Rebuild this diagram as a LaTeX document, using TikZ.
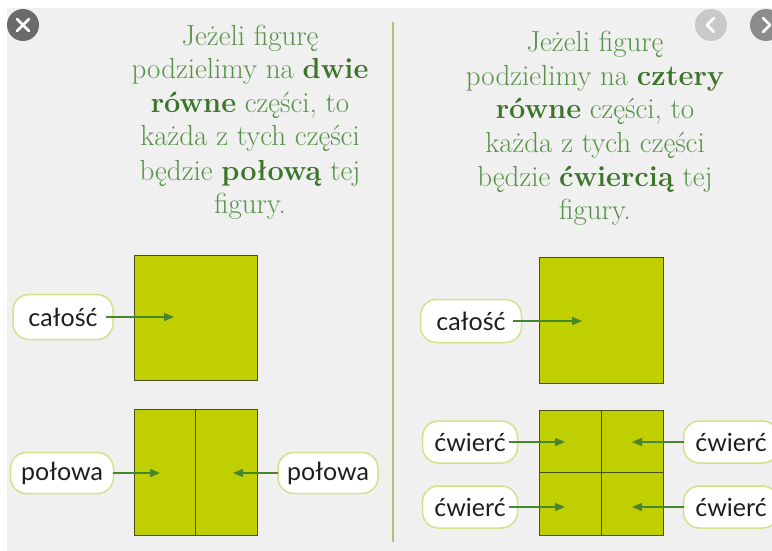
\documentclass[tikz,border=0pt]{standalone}
\usepackage{fontspec}
\newfontfamily\pillfont{Lato}
\usetikzlibrary{arrows.meta}
\definecolor{bgray}{RGB}{240,240,240}
\definecolor{txtgreen}{RGB}{88,146,72}
\definecolor{boldgreen}{RGB}{60,116,42}
\definecolor{divgreen}{RGB}{172,196,122}
\definecolor{sqfill}{RGB}{192,207,0}
\definecolor{sqborder}{RGB}{72,80,32}
\definecolor{arrgreen}{RGB}{70,135,45}
\definecolor{pillborder}{RGB}{212,224,140}
\definecolor{pilltext}{RGB}{30,30,30}
\tikzset{
  headline/.style={anchor=base, inner sep=0pt, text=txtgreen, font=\fontsize{29}{33}\selectfont},
  pill/.style={draw=pillborder, line width=1.5pt, fill=white, rounded corners=16pt,
    minimum width=100pt, minimum height=43pt, inner sep=0pt, text=pilltext,
    font=\pillfont\fontsize{25}{28}\selectfont},
  sq/.style={draw=sqborder, line width=1pt, fill=sqfill, inner sep=0pt},
  arr/.style={draw=arrgreen, line width=1.6pt, -{Triangle[length=10pt,width=8pt]}},
  part/.style={draw=sqborder, line width=1pt},
  btn/.style={circle, inner sep=0pt, minimum size=32pt},
  btnmark/.style={draw=white, line width=2.5pt, line cap=round, line join=round}
}
\newcommand{\hb}[1]{{\bfseries\color{boldgreen}#1}}
\begin{document}
\begin{tikzpicture}[x=1pt,y=-1pt]
\useasboundingbox (0,0) rectangle (772,551);
\fill[white] (0,0) rectangle (772,551);
\fill[bgray] (7,8) rectangle (772,551);
\begin{scope}
\clip (0,0) rectangle (772,551);
% buttons
\node[btn, fill={rgb,255:red,107;green,107;blue,107}] (close) at (23,25) {};
\draw[btnmark] ([shift={(-6,-6)}]close.center) -- ([shift={(6,6)}]close.center);
\draw[btnmark] ([shift={(-6,6)}]close.center) -- ([shift={(6,-6)}]close.center);
\node[btn, fill={rgb,255:red,201;green,201;blue,201}] (prev) at (711,25) {};
\draw[btnmark] ([shift={(3,-7)}]prev.center) -- ([shift={(-4,0)}]prev.center) -- ([shift={(3,7)}]prev.center);
\node[btn, fill={rgb,255:red,140;green,140;blue,140}] (next) at (766,25) {};
\draw[btnmark] ([shift={(-3,-7)}]next.center) -- ([shift={(4,0)}]next.center) -- ([shift={(-3,7)}]next.center);

% divider
\coordinate (dtop) at (393,22);
\coordinate (dbot) at (393,542);
\draw[divgreen, line width=2pt] (dtop) -- (dbot);

% left headline
\node[headline] (l1) at (250,46) {Jeżeli figurę};
\node[headline] (l2) at (250,79) {podzielimy na \hb{dwie}};
\node[headline] (l3) at (250,113) {\hb{równe} części, to};
\node[headline] (l4) at (250,146) {każda z tych części};
\node[headline] (l5) at (250,180) {będzie \hb{połową} tej};
\node[headline] (l6) at (250,213) {figury.};

% right headline
\node[headline] (r1) at (595,52) {Jeżeli figurę};
\node[headline] (r2) at (595,85) {podzielimy na \hb{cztery}};
\node[headline] (r3) at (595,119) {\hb{równe} części, to};
\node[headline] (r4) at (595,152) {każda z tych części};
\node[headline] (r5) at (595,186) {będzie \hb{ćwiercią} tej};
\node[headline] (r6) at (595,219) {figury.};

% left squares
\node[sq, minimum width=123pt, minimum height=125pt] (lsqa) at (195.5,317.5) {};
\node[sq, minimum width=123pt, minimum height=126pt] (lsqb) at (195.5,472) {};
\draw[part] (lsqb.north) -- (lsqb.south);

% right squares
\node[sq, minimum width=124pt, minimum height=126pt] (rsqa) at (601,320) {};
\node[sq, minimum width=124pt, minimum height=125pt] (rsqb) at (601,472.5) {};
\draw[part] (rsqb.north) -- (rsqb.south);
\draw[part] (rsqb.west) -- (rsqb.east);

% arrow tip x positions
\coordinate (tla) at (182,317);
\coordinate (tlb1) at (161,473);
\coordinate (tlb2) at (232,473);
\coordinate (tra) at (591,321);
\coordinate (trq1) at (574,442);
\coordinate (trq2) at (631,442);

% left pills
\node[pill, minimum height=45pt] (lcal) at (63,317) {całość};
\node[pill, minimum width=103pt, minimum height=41pt] (lpol1) at (62,473) {połowa};
\node[pill, minimum height=41pt] (lpol2) at (328,473) {połowa};

% right pills
\node[pill, minimum width=101pt] (rcal) at (471,321) {całość};
\node[pill, minimum width=95pt, minimum height=42pt] (rq1) at (470,442) {ćwierć};
\node[pill, minimum width=95pt, minimum height=42pt] (rq3) at (470,507) {ćwierć};
\node[pill, minimum width=95pt, minimum height=42pt] (rq2) at (731,442) {ćwierć};
\node[pill, minimum width=95pt, minimum height=42pt] (rq4) at (731,507) {ćwierć};

% arrows
\draw[arr] ([xshift=-8pt]lcal.east) -- ([xshift=-8pt]lcal.east -| tla);
\draw[arr] ([xshift=-1pt]lpol1.east) -- ([xshift=-1pt]lpol1.east -| tlb1);
\draw[arr] ([xshift=1pt]lpol2.west) -- ([xshift=1pt]lpol2.west -| tlb2);
\draw[arr] ([xshift=-9pt]rcal.east) -- ([xshift=-9pt]rcal.east -| tra);
\draw[arr] ([xshift=-9pt]rq1.east) -- ([xshift=-9pt]rq1.east -| trq1);
\draw[arr] ([xshift=-9pt]rq3.east) -- ([xshift=-9pt]rq3.east -| trq1);
\draw[arr] ([xshift=1pt]rq2.west) -- ([xshift=1pt]rq2.west -| trq2);
\draw[arr] ([xshift=1pt]rq4.west) -- ([xshift=1pt]rq4.west -| trq2);
\end{scope}
\end{tikzpicture}
\end{document}
